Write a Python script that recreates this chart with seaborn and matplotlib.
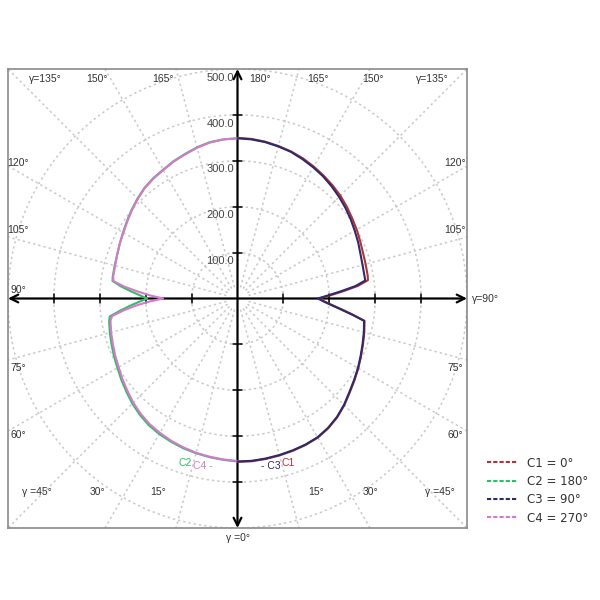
import numpy as np
import pandas as pd
import matplotlib
matplotlib.use('Agg')
import matplotlib.pyplot as plt
from matplotlib.lines import Line2D
import seaborn as sns

# gamma angles (deg) and luminous intensity per C-plane
gamma = [0, 5, 10, 15, 20, 25, 30, 35, 40, 45, 50, 55, 60, 65, 70, 75, 80,
         82, 84, 86, 88, 90, 92, 94, 96, 98,
         100, 105, 110, 115, 120, 125, 130, 135, 140, 145, 150, 155, 160, 165, 170, 175, 180]
c1 = [356, 356, 355, 354, 353, 352, 350, 345, 338, 329, 319, 311, 304, 297, 291, 286, 281,
      254, 229, 207, 190, 178, 203, 232, 264, 287,
      288, 289, 291, 295, 300, 305, 311, 317, 322, 327, 332, 337, 341, 344, 347, 349, 350]
c2 = [355, 353, 351, 349, 347, 344, 341, 337, 331, 324, 316, 309, 302, 297, 292, 288, 284,
      281, 258, 236, 215, 197, 214, 234, 256, 275,
      276, 277, 279, 283, 288, 294, 301, 308, 315, 320, 324, 330, 335, 341, 346, 348, 349]
c3 = [355, 355, 354, 353, 352, 351, 349, 344, 337, 328, 318, 310, 303, 296, 290, 285, 280,
      252, 226, 205, 188, 175, 198, 226, 258, 281,
      281, 282, 285, 290, 295, 301, 307, 313, 319, 325, 330, 335, 340, 343, 346, 348, 349]
c4 = [354, 352, 350, 348, 345, 342, 338, 334, 328, 321, 313, 306, 299, 294, 289, 285, 281,
      276, 250, 222, 192, 162, 190, 218, 248, 273,
      275, 276, 279, 283, 287, 293, 300, 307, 314, 319, 323, 329, 334, 340, 345, 348, 349]

planes = ['C1', 'C2', 'C3', 'C4']
legend_labels = ['C1 = 0°', 'C2 = 180°', 'C3 = 90°', 'C4 = 270°']
colors = {'C1': '#b3303f', 'C2': '#2fbf63', 'C3': '#2c2c66', 'C4': '#d57acb'}
side = {'C1': 1, 'C2': -1, 'C3': 1, 'C4': -1}   # right or left half of the diagram
rings = [100, 200, 300, 400, 500]

# build long table, polar -> cartesian (gamma 0 points down)
g = np.radians(gamma)
rows = []
for name, vals in zip(planes, [c1, c2, c3, c4]):
    v = np.array(vals)
    rows.append(pd.DataFrame({'plane': name, 'x': side[name] * v * np.sin(g),
                              'y': -v * np.cos(g)}))
df = pd.concat(rows, ignore_index=True)

sns.set_style('white')
fig = plt.figure(figsize=(6, 6), dpi=100)
ax = fig.add_axes([8 / 600, 72 / 600, 459 / 600, 459 / 600])

# grid: dotted circles and radial lines every 15 deg
grid = dict(ls=(0, (1.5, 2)), color='#c9c9c9', lw=1.1, zorder=1)
t = np.linspace(0, 2 * np.pi, 400)
for r in rings:
    ax.plot(r * np.cos(t), r * np.sin(t), **grid)
for a in range(0, 360, 15):
    if a % 90 == 0:
        continue
    ar = np.radians(a)
    ax.plot([25 * np.sin(ar), 900 * np.sin(ar)], [25 * np.cos(ar), 900 * np.cos(ar)], **grid)

# axes with arrows
arrow = dict(arrowstyle='<->', color='black', lw=1.6, shrinkA=0, shrinkB=0, mutation_scale=14)
ax.annotate('', xy=(500, 0), xytext=(-500, 0), arrowprops=arrow, zorder=3)
ax.annotate('', xy=(0, 500), xytext=(0, -500), arrowprops=arrow, zorder=3)
for r in rings[:-1]:
    for s in (1, -1):
        ax.plot([s * r, s * r], [-9, 9], color='black', lw=1.1, zorder=3)
        ax.plot([-9, 9], [s * r, s * r], color='black', lw=1.1, zorder=3)
for r in rings:
    ax.text(-8, r - 8, f'{r:.1f}', ha='right', va='top', fontsize=8, color='#444444',
            family='Liberation Sans', zorder=4)

# curves
sns.lineplot(data=df, x='x', y='y', hue='plane', hue_order=['C1', 'C2', 'C4', 'C3'],
             palette=colors, sort=False, estimator=None, lw=1.5, legend=False, ax=ax, zorder=5)

# angle labels around the frame
lab = dict(fontsize=7.5, color='#333333', family='Liberation Sans', ha='center', va='center')
top = [(-419, 'γ=135°'), (-306, '150°'), (-162, '165°'), (48, '180°'),
       (175, '165°'), (295, '150°'), (424, 'γ=135°')]
for x, s in top:
    ax.text(x, 478, s, **lab)
for y, s in [(295, '120°'), (149, '105°'), (18, '90°'), (-151, '75°'), (-297, '60°')]:
    ax.text(-478, y, s, **lab)
for y, s in [(295, '120°'), (149, '105°'), (-151, '75°'), (-297, '60°')]:
    ax.text(474, y, s, **lab)
bottom = [(-438, 'γ =45°'), (-306, '30°'), (-173, '15°'), (171, '15°'), (289, '30°'),
          (440, 'γ =45°')]
for x, s in bottom:
    ax.text(x, -421, s, **lab)
ax.text(0, -522, 'γ =0°', clip_on=False, **lab)
ax.text(540, 0, 'γ=90°', clip_on=False, **lab)

# curve tags
tag = dict(fontsize=7.5, family='Liberation Sans', va='center')
ax.text(-100, -358, 'C2', color=colors['C2'], ha='right', **tag)
ax.text(-98, -366, 'C4 -', color=colors['C4'], ha='left', **tag)
ax.text(94, -366, '- C3', color=colors['C3'], ha='right', **tag)
ax.text(96, -358, 'C1', color=colors['C1'], ha='left', **tag)

ax.set_xlim(-500, 500)
ax.set_ylim(-500, 500)
ax.set_aspect('equal')
ax.set_xticks([])
ax.set_yticks([])
ax.set_xlabel('')
ax.set_ylabel('')
for sp in ax.spines.values():
    sp.set_color('#8a8a8a')
    sp.set_linewidth(1.2)

handles = [Line2D([0], [0], color=colors[p], lw=1.5, ls=(0, (2, 1))) for p in planes]
fig.legend(handles, legend_labels, loc='upper left', bbox_to_anchor=(476 / 600, 1 - 446 / 600),
           frameon=False, fontsize=8.5, handlelength=2.6, labelspacing=0.45, handletextpad=0.8,
           labelcolor='#333333')

fig.savefig('out.png', dpi=100)
